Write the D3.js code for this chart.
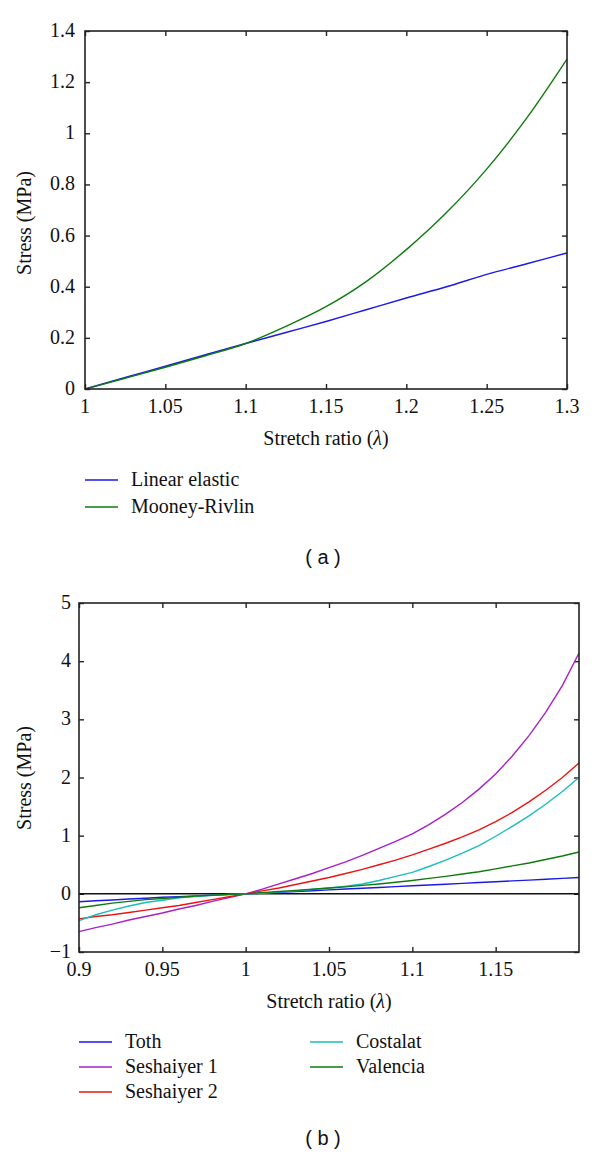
<!DOCTYPE html>
<html><head><meta charset="utf-8">
<script src="https://cdn.jsdelivr.net/npm/d3@7"></script>
<style>
html,body{margin:0;padding:0;background:#fff;}
svg text{font-family:"Liberation Serif","DejaVu Serif",serif;fill:#111;}
</style></head>
<body><svg id="fig" width="600" height="1155"></svg>
<script>
// ---------- Panel (a) data ----------
const lambdaA = [1.0,1.025,1.05,1.075,1.1,1.125,1.15,1.175,1.2,1.225,1.25,1.275,1.3];
const linearElastic = [0,0.045,0.089,0.134,0.178,0.221,0.264,0.31,0.356,0.4,0.448,0.49,0.532];
const mooneyRivlin  = [0,0.042,0.085,0.13,0.178,0.245,0.322,0.42,0.545,0.69,0.86,1.06,1.29];
const xTicksA = [1,1.05,1.1,1.15,1.2,1.25,1.3];
const yTicksA = [0,0.2,0.4,0.6,0.8,1,1.2,1.4];
const seriesNamesA = ["Linear elastic","Mooney-Rivlin"];

// ---------- Panel (b) data ----------
const lambdaB = [0.9,0.91,0.92,0.93,0.94,0.95,0.96,0.97,0.98,0.99,1.0,1.01,1.02,1.03,1.04,1.05,1.06,1.07,1.08,1.09,1.1,1.11,1.12,1.13,1.14,1.15,1.16,1.17,1.18,1.19,1.2];
const toth = [-0.135,-0.12,-0.105,-0.09,-0.075,-0.06,-0.048,-0.035,-0.023,-0.011,0,0.013,0.027,0.04,0.054,0.068,0.082,0.096,0.11,0.124,0.138,0.152,0.166,0.18,0.194,0.208,0.222,0.236,0.25,0.265,0.28];
const seshaiyer1 = [-0.65,-0.58,-0.52,-0.45,-0.39,-0.33,-0.26,-0.2,-0.13,-0.065,0,0.08,0.17,0.26,0.35,0.45,0.55,0.66,0.78,0.9,1.03,1.19,1.37,1.57,1.8,2.06,2.37,2.72,3.12,3.58,4.14];
const seshaiyer2 = [-0.43,-0.39,-0.36,-0.32,-0.28,-0.24,-0.2,-0.15,-0.1,-0.05,0,0.05,0.1,0.16,0.22,0.28,0.35,0.42,0.5,0.58,0.67,0.77,0.87,0.98,1.1,1.24,1.4,1.58,1.78,2.0,2.25];
const costalat = [-0.46,-0.36,-0.28,-0.21,-0.15,-0.11,-0.07,-0.045,-0.025,-0.01,0,0.01,0.03,0.05,0.075,0.1,0.13,0.17,0.23,0.3,0.37,0.47,0.58,0.7,0.83,0.99,1.16,1.34,1.54,1.76,2.0];
const valencia = [-0.24,-0.2,-0.16,-0.13,-0.1,-0.08,-0.06,-0.04,-0.025,-0.01,0,0.02,0.04,0.06,0.08,0.1,0.12,0.145,0.17,0.2,0.23,0.265,0.3,0.34,0.38,0.43,0.48,0.53,0.59,0.65,0.72];
const xTicksB = [0.9,0.95,1,1.05,1.1,1.15];
const yTicksB = [-1,0,1,2,3,4,5];
const seriesNamesB = ["Toth","Seshaiyer 1","Seshaiyer 2","Costalat","Valencia"];

const COL = {blue:"#1a1ae6", green:"#107a10", purple:"#a820c8", red:"#ea1414", cyan:"#1cbcbc"};
const svg = d3.select("#fig");
svg.append("rect").attr("width",600).attr("height",1155).attr("fill","#fff");

function fmt(v){ return (v<0?"\u2212":"") + String(+Math.abs(v).toFixed(2)); }

function panel(o){
  const g = svg.append("g");
  const x = d3.scaleLinear().domain(o.xDomain).range([o.left,o.right]);
  const y = d3.scaleLinear().domain(o.yDomain).range([o.bottom,o.top]);
  const tl = 5;
  const ax = (gen, tr) => g.append("g").attr("transform",tr).call(gen)
      .call(s=>s.select(".domain").remove())
      .call(s=>s.selectAll("line").attr("stroke","#222").attr("stroke-width",1.4))
      .call(s=>s.selectAll("text").remove());
  ax(d3.axisBottom(x).tickValues(o.xTicks).tickSize(-tl), `translate(0,${o.bottom})`);
  ax(d3.axisTop(x).tickValues(o.xTicks).tickSize(-tl), `translate(0,${o.top})`);
  ax(d3.axisLeft(y).tickValues(o.yTicks).tickSize(-tl), `translate(${o.left},0)`);
  ax(d3.axisRight(y).tickValues(o.yTicks).tickSize(-tl), `translate(${o.right},0)`);
  g.selectAll(".xl").data(o.xTicks).enter().append("text")
    .attr("x",d=>x(d)).attr("y",o.bottom+24).attr("text-anchor","middle")
    .attr("font-size",20).text(fmt);
  g.selectAll(".yl").data(o.yTicks).enter().append("text")
    .attr("x",o.left-o.yLabGap).attr("y",d=>y(d)+6).attr("text-anchor","end")
    .attr("font-size",20).text(fmt);
  if(o.zeroLine){
    g.append("line").attr("x1",o.left).attr("x2",o.right).attr("y1",y(0)).attr("y2",y(0))
      .attr("stroke","#111").attr("stroke-width",1.5);
  }
  const line = d3.line().x(d=>x(d[0])).y(d=>y(d[1])).curve(o.curve);
  o.series.forEach(s=>{
    g.append("path").datum(o.xs.map((v,i)=>[v,s.values[i]]))
      .attr("d",line).attr("fill","none").attr("stroke",s.color).attr("stroke-width",1.4);
  });
  g.append("rect").attr("x",o.left).attr("y",o.top).attr("width",o.right-o.left).attr("height",o.bottom-o.top)
    .attr("fill","none").attr("stroke","#222").attr("stroke-width",1.6);
  g.append("text").attr("x",(o.left+o.right)/2).attr("y",o.bottom+56).attr("text-anchor","middle")
    .attr("font-size",20).html('Stretch ratio (<tspan font-style="italic">λ</tspan>)');
  g.append("text").attr("transform",`translate(${o.yTitleX},${o.yTitleY}) rotate(-90)`)
    .attr("text-anchor","middle").attr("font-size",20).text("Stress (MPa)");
  o.series.forEach((s,i)=>{
    const col = Math.floor(i/o.legRows), row = i%o.legRows;
    const lx = o.legX + col*o.legColW, ly = o.legY + row*o.legDy;
    g.append("line").attr("x1",lx).attr("x2",lx+33).attr("y1",ly).attr("y2",ly)
      .attr("stroke",s.color).attr("stroke-width",1.5);
    g.append("text").attr("x",lx+46).attr("y",ly+6).attr("font-size",20).text(s.name);
  });
  g.append("text").attr("x",o.capX).attr("y",o.capY).attr("text-anchor","middle")
    .attr("font-size",20).style("font-family","'Liberation Sans',Arial,sans-serif")
    .attr("xml:space","preserve").text(o.caption);
}

panel({
  xDomain:[1,1.3], yDomain:[0,1.4], left:85, right:567, top:31, bottom:389,
  xTicks:xTicksA, yTicks:yTicksA, xs:lambdaA, zeroLine:false, yLabGap:10,
  curve:d3.curveMonotoneX,
  series:[{name:seriesNamesA[0],values:linearElastic,color:COL.blue},
          {name:seriesNamesA[1],values:mooneyRivlin,color:COL.green}],
  yTitleX:31, yTitleY:223,
  legX:85, legY:480, legDy:27, legRows:2, legColW:0,
  capX:323, capY:564, caption:"( a )"
});

panel({
  xDomain:[0.9,1.2], yDomain:[-1,5], left:79, right:579, top:603, bottom:952,
  xTicks:xTicksB, yTicks:yTicksB, xs:lambdaB, zeroLine:true, yLabGap:8,
  curve:d3.curveLinear,
  series:[{name:seriesNamesB[0],values:toth,color:COL.blue},
          {name:seriesNamesB[1],values:seshaiyer1,color:COL.purple},
          {name:seriesNamesB[2],values:seshaiyer2,color:COL.red},
          {name:seriesNamesB[3],values:costalat,color:COL.cyan},
          {name:seriesNamesB[4],values:valencia,color:COL.green}],
  yTitleX:31, yTitleY:778,
  legX:79, legY:1042, legDy:25, legRows:3, legColW:231,
  capX:323, capY:1145, caption:"( b )"
});
</script></body></html>
